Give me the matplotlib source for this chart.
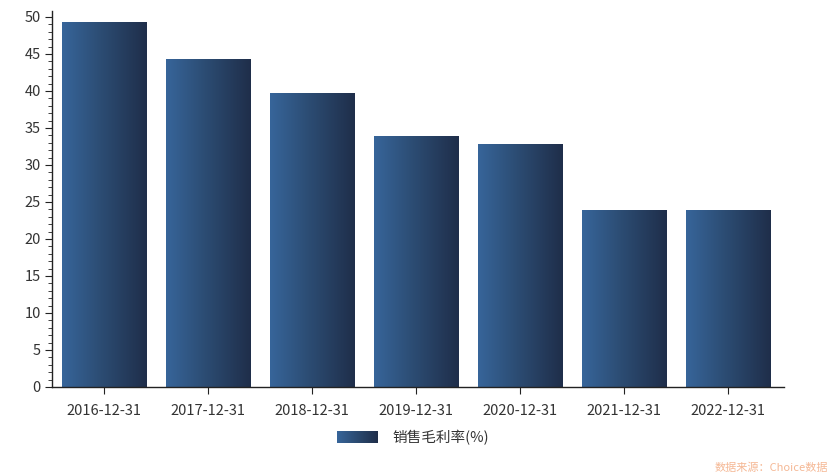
import matplotlib
matplotlib.use('Agg')
import numpy as np
import matplotlib.pyplot as plt
from matplotlib.colors import LinearSegmentedColormap
from matplotlib.legend_handler import HandlerBase
from matplotlib.image import BboxImage
from matplotlib.transforms import Bbox, TransformedBbox
from matplotlib.patches import Rectangle
from matplotlib.ticker import MultipleLocator

plt.rcParams['font.family'] = ['Noto Sans CJK SC', 'DejaVu Sans']

dates = ['2016-12-31', '2017-12-31', '2018-12-31', '2019-12-31',
         '2020-12-31', '2021-12-31', '2022-12-31']
gross_margin = [49.3, 44.3, 39.6, 33.9, 32.8, 23.9, 23.8]
series_name = '销售毛利率(%)'
source_note = '数据来源：Choice数据'

cmap = LinearSegmentedColormap.from_list('bar_grad', ['#37659a', '#2b4a70', '#1f2e4a'])
grad = np.linspace(0, 1, 256).reshape(1, -1)


class GradientHandler(HandlerBase):
    def create_artists(self, legend, orig_handle, xdescent, ydescent,
                       width, height, fontsize, trans):
        bb = TransformedBbox(Bbox.from_bounds(-xdescent, -ydescent, width, height), trans)
        img = BboxImage(bb, cmap=cmap, interpolation='bilinear')
        img.set_data(grad)
        return [img]


fig = plt.figure(figsize=(8.31, 4.75), dpi=100)
ax = fig.add_axes([0.0626, 0.1853, 0.8808, 0.7915])

x = np.arange(len(dates))
bars = ax.bar(x, gross_margin, width=0.81, color='none', edgecolor='none')
for b in bars:
    ax.imshow(grad, cmap=cmap, aspect='auto', interpolation='bilinear',
              extent=[b.get_x(), b.get_x() + b.get_width(), 0, b.get_height()],
              zorder=2)

ax.set_xlim(-0.5, len(dates) - 0.46)
ax.set_ylim(0, 50.8)
ax.set_xticks(x)
ax.set_xticklabels(dates)
ax.yaxis.set_major_locator(MultipleLocator(5))
ax.yaxis.set_minor_locator(MultipleLocator(1))

for s in ['top', 'right']:
    ax.spines[s].set_visible(False)
for s in ['left', 'bottom']:
    ax.spines[s].set_color('#222222')
    ax.spines[s].set_linewidth(1.0)

ax.tick_params(axis='y', which='major', length=5, color='#222222',
               labelsize=10.5, labelcolor='#333333', pad=3)
ax.tick_params(axis='y', which='minor', length=3, color='#222222')
ax.tick_params(axis='x', length=5, color='#222222', labelsize=10.5,
               labelcolor='#333333', pad=7)

proxy = Rectangle((0, 0), 1, 1)
fig.legend([proxy], [series_name], handler_map={Rectangle: GradientHandler()},
           loc='center', bbox_to_anchor=(0.497, 0.079), frameon=False,
           fontsize=10.5, handlelength=2.8, handleheight=0.8, handletextpad=1.0,
           labelcolor='#333333')

fig.text(0.996, 0.005, source_note, ha='right', va='bottom',
         fontsize=8, color='#f5b895')

fig.savefig('out.png', dpi=100)
